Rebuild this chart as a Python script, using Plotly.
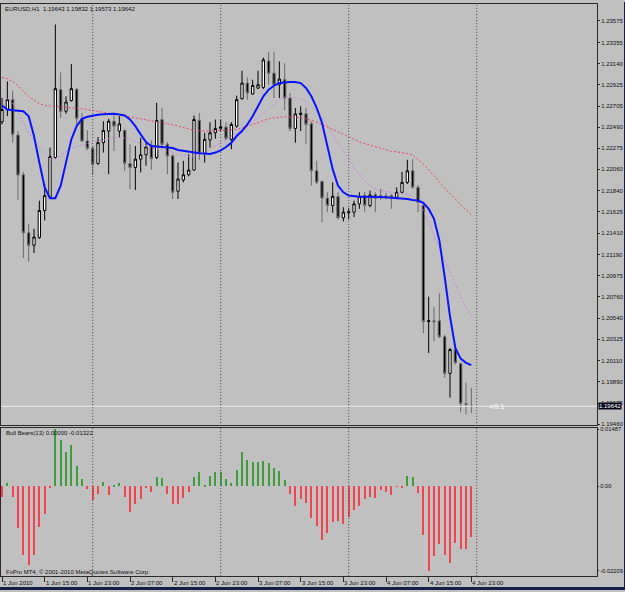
import plotly.graph_objects as go

W, H = 625, 592

# ---------------- data ----------------
symbol_title = "EURUSD,H1  1.19643 1.19832 1.19573 1.19642"
indicator_title = "Bull Bears(13) 0.00000 -0.01322"
copyright_text = "FxPro MT4, \u00a9 2001-2010 MetaQuotes Software Corp."

time_labels = ["1 Jun 2010", "1 Jun 15:00", "1 Jun 23:00", "2 Jun 07:00", "2 Jun 15:00",
               "2 Jun 23:00", "3 Jun 07:00", "3 Jun 15:00", "3 Jun 23:00", "4 Jun 07:00",
               "4 Jun 15:00", "4 Jun 23:00"]
time_label_bars = [0, 8, 16, 24, 32, 40, 48, 56, 64, 72, 80, 88]
day_separator_bars = [17, 41, 65, 89]

opens = [1.22545, 1.22670, 1.22771, 1.22409, 1.22004, 1.21413, 1.21285, 1.21363, 1.21640, 1.21775,
         1.22180, 1.22872, 1.22653, 1.22761, 1.22876, 1.22578, 1.22349, 1.22275, 1.22119, 1.22332,
         1.22450, 1.22551, 1.22450, 1.22457, 1.22119, 1.22079, 1.22164, 1.22208, 1.22305, 1.22180,
         1.22568, 1.22315, 1.22197, 1.21836, 1.21951, 1.22005, 1.22052, 1.22561, 1.22221, 1.22359,
         1.22433, 1.22477, 1.22491, 1.22366, 1.22501, 1.22781, 1.22940, 1.22829, 1.22889, 1.22896,
         1.23166, 1.23041, 1.22923, 1.22974, 1.22788, 1.22477, 1.22619, 1.22626, 1.22524, 1.22045,
         1.21937, 1.21765, 1.21691, 1.21782, 1.21565, 1.21616, 1.21623, 1.21707, 1.21792, 1.21691,
         1.21802, 1.21792, 1.21789, 1.21792, 1.21775, 1.21826, 1.21927, 1.22045, 1.21876, 1.21691,
         1.20507, 1.20514, 1.20514, 1.20352, 1.19978, 1.20221, 1.20076, 1.19670, 1.19643]
highs = [1.22788, 1.22957, 1.22862, 1.22450, 1.22035, 1.21505, 1.21454, 1.21741, 1.21910, 1.22282,
         1.23538, 1.23048, 1.22805, 1.23133, 1.22889, 1.22636, 1.22460, 1.22298, 1.22389, 1.22551,
         1.22575, 1.22612, 1.22602, 1.22467, 1.22316, 1.22298, 1.22382, 1.22349, 1.22356, 1.22738,
         1.22687, 1.22339, 1.22214, 1.22130, 1.22147, 1.22214, 1.22609, 1.22636, 1.22433, 1.22541,
         1.22568, 1.22568, 1.22541, 1.22541, 1.22812, 1.23065, 1.22997, 1.22974, 1.23065, 1.23200,
         1.23261, 1.23261, 1.23160, 1.23143, 1.22839, 1.22687, 1.22704, 1.22687, 1.22551, 1.22147,
         1.21944, 1.21826, 1.21927, 1.21826, 1.21673, 1.21663, 1.21741, 1.21826, 1.21832, 1.21843,
         1.21826, 1.21859, 1.21819, 1.21809, 1.21876, 1.22035, 1.22157, 1.22164, 1.21900, 1.21707,
         1.20761, 1.20659, 1.20795, 1.20373, 1.20238, 1.20238, 1.20086, 1.19883, 1.19832]
lows = [1.22518, 1.22602, 1.22332, 1.21748, 1.21156, 1.21116, 1.21207, 1.21352, 1.21538, 1.21758,
        1.22164, 1.22585, 1.22626, 1.22751, 1.22501, 1.22339, 1.22258, 1.22001, 1.22106, 1.22231,
        1.22011, 1.22248, 1.22382, 1.22045, 1.21859, 1.21849, 1.22028, 1.22096, 1.22055, 1.22164,
        1.22292, 1.22011, 1.21758, 1.21758, 1.21927, 1.21988, 1.22045, 1.22157, 1.22130, 1.22282,
        1.22372, 1.22450, 1.22359, 1.22265, 1.22484, 1.22771, 1.22771, 1.22822, 1.22879, 1.22879,
        1.22923, 1.22788, 1.22788, 1.22663, 1.22450, 1.22332, 1.22450, 1.22315, 1.21893, 1.21910,
        1.21521, 1.21623, 1.21616, 1.21548, 1.21528, 1.21548, 1.21572, 1.21657, 1.21629, 1.21673,
        1.21623, 1.21751, 1.21751, 1.21657, 1.21758, 1.21816, 1.21910, 1.21866, 1.21623, 1.20389,
        1.20187, 1.20305, 1.20339, 1.19934, 1.19731, 1.20069, 1.19579, 1.19562, 1.19573]
closes = [1.22670, 1.22771, 1.22416, 1.22001, 1.21413, 1.21285, 1.21369, 1.21640, 1.21792, 1.22191,
          1.22883, 1.22653, 1.22747, 1.22883, 1.22578, 1.22349, 1.22275, 1.22113, 1.22332, 1.22457,
          1.22551, 1.22501, 1.22524, 1.22119, 1.22079, 1.22164, 1.22208, 1.22289, 1.22170, 1.22558,
          1.22315, 1.22197, 1.21826, 1.21961, 1.22005, 1.22052, 1.22568, 1.22224, 1.22366, 1.22433,
          1.22477, 1.22494, 1.22376, 1.22518, 1.22771, 1.22940, 1.22839, 1.22916, 1.22923, 1.23177,
          1.23041, 1.22923, 1.22981, 1.22788, 1.22474, 1.22626, 1.22633, 1.22518, 1.22045, 1.21927,
          1.21768, 1.21691, 1.21785, 1.21565, 1.21623, 1.21626, 1.21707, 1.21782, 1.21691, 1.21799,
          1.21765, 1.21768, 1.21768, 1.21772, 1.21826, 1.21927, 1.22045, 1.21876, 1.21724, 1.20507,
          1.20514, 1.20504, 1.20352, 1.19978, 1.20221, 1.20086, 1.19670, 1.19663, 1.19642]

ma_blue = [1.22711, 1.22670, 1.22663, 1.22657, 1.22653, 1.22602, 1.22400, 1.22130, 1.21876, 1.21765,
           1.21765, 1.21893, 1.22130, 1.22366, 1.22501, 1.22575, 1.22596, 1.22609, 1.22616, 1.22623,
           1.22626, 1.22626, 1.22619, 1.22609, 1.22569, 1.22501, 1.22417, 1.22339, 1.22298, 1.22292,
           1.22288, 1.22285, 1.22278, 1.22258, 1.22248, 1.22238, 1.22231, 1.22224, 1.22221, 1.22217,
           1.22231, 1.22254, 1.22288, 1.22332, 1.22400, 1.22450, 1.22518, 1.22602, 1.22704, 1.22805,
           1.22873, 1.22913, 1.22940, 1.22947, 1.22950, 1.22950, 1.22940, 1.22890, 1.22805, 1.22687,
           1.22535, 1.22298, 1.22062, 1.21893, 1.21825, 1.21792, 1.21785, 1.21781, 1.21781, 1.21781,
           1.21778, 1.21775, 1.21775, 1.21771, 1.21768, 1.21765, 1.21758, 1.21748, 1.21741, 1.21717,
           1.21656, 1.21555, 1.21335, 1.20964, 1.20558, 1.20238, 1.20129, 1.20085, 1.20062]
ma_violet = [1.22788, 1.22778, 1.22738, 1.22636, 1.22535, 1.22433, 1.22349, 1.22282, 1.22231, 1.22180,
             1.22170, 1.22197, 1.22238, 1.22271, 1.22292, 1.22309, 1.22322, 1.22336, 1.22349, 1.22362,
             1.22376, 1.22383, 1.22386, 1.22380, 1.22366, 1.22349, 1.22325, 1.22298, 1.22281, 1.22271,
             1.22265, 1.22251, 1.22231, 1.22211, 1.22197, 1.22190, 1.22197, 1.22214, 1.22231, 1.22265,
             1.22298, 1.22332, 1.22366, 1.22393, 1.22427, 1.22467, 1.22508, 1.22542, 1.22586, 1.22636,
             1.22687, 1.22731, 1.22771, 1.22795, 1.22798, 1.22788, 1.22778, 1.22744, 1.22704, 1.22653,
             1.22586, 1.22501, 1.22417, 1.22325, 1.22238, 1.22157, 1.22079, 1.22011, 1.21944, 1.21893,
             1.21859, 1.21842, 1.21832, 1.21825, 1.21818, 1.21812, 1.21805, 1.21785, 1.21724, 1.21640,
             1.21521, 1.21403, 1.21268, 1.21133, 1.20998, 1.20880, 1.20761, 1.20660, 1.20558]
ma_red = [1.22998, 1.22984, 1.22957, 1.22913, 1.22856, 1.22805, 1.22765, 1.22731, 1.22711, 1.22704,
          1.22697, 1.22694, 1.22690, 1.22687, 1.22684, 1.22677, 1.22670, 1.22660, 1.22646, 1.22636,
          1.22629, 1.22623, 1.22616, 1.22606, 1.22596, 1.22586, 1.22575, 1.22565, 1.22559, 1.22552,
          1.22542, 1.22528, 1.22515, 1.22501, 1.22484, 1.22467, 1.22457, 1.22454, 1.22450, 1.22450,
          1.22454, 1.22457, 1.22457, 1.22461, 1.22467, 1.22481, 1.22501, 1.22521, 1.22542, 1.22559,
          1.22575, 1.22586, 1.22592, 1.22596, 1.22596, 1.22592, 1.22586, 1.22575, 1.22562, 1.22542,
          1.22518, 1.22491, 1.22467, 1.22440, 1.22417, 1.22393, 1.22366, 1.22339, 1.22322, 1.22305,
          1.22292, 1.22275, 1.22258, 1.22244, 1.22238, 1.22231, 1.22221, 1.22204, 1.22163, 1.22113,
          1.22055, 1.21994, 1.21927, 1.21869, 1.21809, 1.21758, 1.21700, 1.21646, 1.21596]

bulls_bears = [-0.00294, 0.00069, -0.00277, -0.01100, -0.01793, -0.02052, -0.01793, -0.01074, -0.00727, -0.00061,
               0.01487, 0.01212, 0.00892, 0.01065, 0.00528, 0.00173, -0.00087, -0.00364, -0.00217, 0.00113,
               -0.00234, 0.00026, 0.00069, -0.00277, -0.00684, -0.00476, -0.00346, -0.00061, -0.00165, 0.00242,
               0.00199, -0.00217, -0.00476, -0.00476, -0.00320, -0.00147, 0.00225, 0.00372, 0.00017, 0.00277,
               0.00372, 0.00372, 0.00191, 0.00069, 0.00433, 0.00883, 0.00693, 0.00632, 0.00624, 0.00658,
               0.00615, 0.00485, 0.00398, 0.00156, -0.00217, -0.00511, -0.00338, -0.00450, -0.00823, -0.01039,
               -0.01403, -0.01230, -0.00944, -0.00901, -0.00996, -0.00814, -0.00624, -0.00511, -0.00346, -0.00277,
               -0.00320, -0.00104, -0.00147, -0.00234, -0.00017, -0.00035, 0.00268, 0.00225, -0.00191, -0.01290,
               -0.02209, -0.01836, -0.01507, -0.01793, -0.02009, -0.01490, -0.01645, -0.01645, -0.01322]

price_ticks = [1.23575, 1.23355, 1.23140, 1.22925, 1.22705, 1.22490, 1.22275, 1.22060, 1.21840, 1.21625,
               1.21410, 1.21190, 1.20975, 1.20760, 1.20540, 1.20325, 1.20110, 1.19890, 1.19675, 1.19460]
ind_ticks = [0.01487, 0.0, -0.02209]
ind_tick_text = ["0.01487", "0.00", "-0.02209"]

current_price = 1.19642
spread_text = "<0.1"

# ---------------- layout helpers (pixels -> paper) ----------------
def px(x):
    return x / W

def py(y):
    return 1 - y / H

BG = "#c0c0c0"
FRAME = "#2a2a2a"
FONT = "Liberation Sans"
FS = 6
TXT = "#111111"

bars = list(range(len(opens)))
x_range = [-0.19, 111.56]

fig = go.Figure()

fig.add_trace(go.Candlestick(
    x=bars, open=opens, high=highs, low=lows, close=closes,
    increasing=dict(line=dict(color="#000000", width=1), fillcolor="#ffffff"),
    decreasing=dict(line=dict(color="#6a6a6a", width=1), fillcolor="#000000"),
    whiskerwidth=0, hoverinfo="skip", showlegend=False, xaxis="x", yaxis="y"))

fig.add_trace(go.Scatter(x=bars, y=ma_red, mode="lines",
                         line=dict(color="#e84a64", width=1, dash="2px,2px"),
                         hoverinfo="skip", showlegend=False, xaxis="x", yaxis="y"))
fig.add_trace(go.Scatter(x=bars, y=ma_violet, mode="lines",
                         line=dict(color="#c985dc", width=1, dash="2px,2px"),
                         hoverinfo="skip", showlegend=False, xaxis="x", yaxis="y"))
fig.add_trace(go.Scatter(x=bars, y=ma_blue, mode="lines",
                         line=dict(color="#0a14ff", width=2),
                         hoverinfo="skip", showlegend=False, xaxis="x", yaxis="y"))

bar_colors = ["#3f9d3f" if v > 0 else "#f4434f" for v in bulls_bears]
fig.add_trace(go.Bar(x=bars, y=bulls_bears, width=0.2, marker=dict(color=bar_colors, line=dict(width=0)),
                     hoverinfo="skip", showlegend=False, xaxis="x2", yaxis="y2"))

main_dom = [py(426), py(2)]
ind_dom = [py(578), py(429)]

axis_common = dict(showgrid=False, zeroline=False, showline=True, mirror=True,
                   linecolor=FRAME, linewidth=1)

fig.update_layout(
    width=W, height=H,
    margin=dict(l=0, r=0, t=0, b=0),
    paper_bgcolor=BG, plot_bgcolor=BG,
    boxgap=0.38,
    bargap=0,
    xaxis=dict(domain=[px(1), px(597)], range=x_range, anchor="y",
               showticklabels=False, ticks="", rangeslider=dict(visible=False), **axis_common),
    yaxis=dict(domain=main_dom, range=[1.19450, 1.23747], side="right", anchor="x",
               tickvals=price_ticks, ticktext=["%.5f" % v for v in price_ticks],
               ticks="outside", ticklen=2, tickcolor=FRAME,
               tickfont=dict(family=FONT, size=FS, color=TXT), **axis_common),
    xaxis2=dict(domain=[px(1), px(597)], range=x_range, anchor="y2", matches="x",
                tickvals=time_label_bars, ticks="outside", ticklen=5, tickcolor=FRAME,
                showticklabels=False, **axis_common),
    yaxis2=dict(domain=ind_dom, range=[-0.02351, 0.01519], side="right", anchor="x2",
                tickvals=ind_ticks, ticktext=ind_tick_text,
                ticks="outside", ticklen=1, tickcolor=FRAME,
                tickfont=dict(family=FONT, size=5.8, color=TXT), **axis_common),
)

shapes = []
for b in day_separator_bars:
    shapes.append(dict(type="line", xref="x", yref="paper", x0=b, x1=b,
                       y0=py(578), y1=py(2), line=dict(color="#4a4a4a", width=1, dash="1px,2px")))
shapes.append(dict(type="line", xref="x domain", yref="y", x0=0, x1=1,
                   y0=current_price, y1=current_price, line=dict(color="#ececec", width=1)))
shapes.append(dict(type="rect", xref="paper", yref="paper", x0=0, x1=1, y0=0, y1=py(589),
                   fillcolor="#14204a", line=dict(width=0), layer="above"))
shapes.append(dict(type="rect", xref="paper", yref="paper", x0=px(624), x1=1, y0=0, y1=1,
                   fillcolor="#14204a", line=dict(width=0), layer="above"))
fig.update_layout(shapes=shapes)

ann = []
ann.append(dict(text=symbol_title, xref="paper", yref="paper", x=px(3), y=py(7),
                xanchor="left", yanchor="middle", showarrow=False,
                font=dict(family=FONT, size=FS, color=TXT)))
ann.append(dict(text=indicator_title, xref="paper", yref="paper", x=px(4), y=py(434),
                xanchor="left", yanchor="middle", showarrow=False,
                font=dict(family=FONT, size=FS, color=TXT)))
ann.append(dict(text=copyright_text, xref="paper", yref="paper", x=px(4), y=py(574),
                xanchor="left", yanchor="middle", showarrow=False,
                font=dict(family=FONT, size=FS, color=TXT)))
for b, t in zip(time_label_bars, time_labels):
    ann.append(dict(text=t, xref="x2", yref="paper", x=b, y=py(585),
                    xanchor="left", yanchor="middle", showarrow=False, xshift=-1,
                    font=dict(family=FONT, size=FS, color=TXT)))
ann.append(dict(text="%.5f" % current_price, xref="paper", yref="y", x=px(598), y=current_price,
                xanchor="left", yanchor="middle", showarrow=False, bgcolor="#05051a",
                borderpad=0, font=dict(family=FONT, size=FS, color="#ffffff")))
ann.append(dict(text=spread_text, xref="x", yref="y", x=91, y=current_price,
                xanchor="left", yanchor="middle", showarrow=False,
                font=dict(family=FONT, size=8, color="#ffffff")))
fig.update_layout(annotations=ann)

fig.write_html("out.html")
